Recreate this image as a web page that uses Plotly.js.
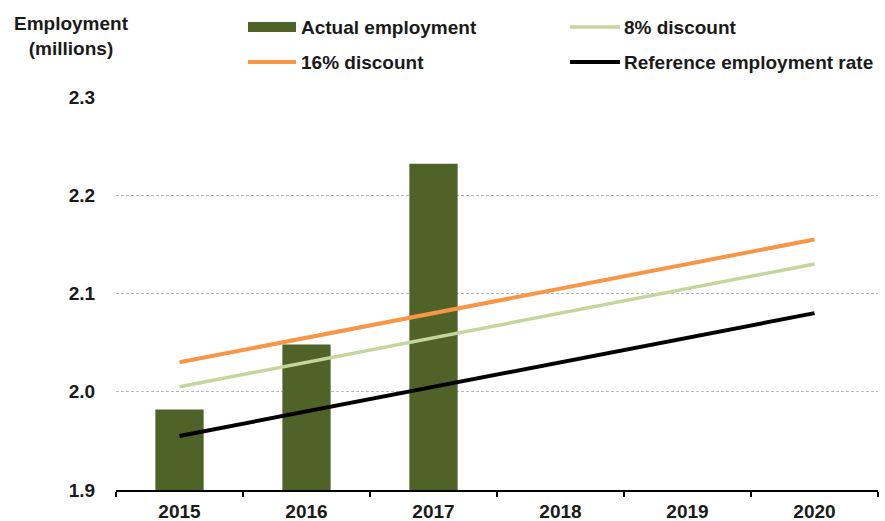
<!DOCTYPE html>
<html>
<head>
<meta charset="utf-8">
<script src="https://cdn.plot.ly/plotly-3.0.1.min.js"></script>
<style>html,body{margin:0;padding:0;background:#fff;}#chart{width:885px;height:521px;}</style>
</head>
<body>
<div id="chart"></div>
<script>
// ---- data ----
const years = ['2015', '2016', '2017', '2018', '2019', '2020'];
const actualYears = ['2015', '2016', '2017'];
const actualEmployment = [1.982, 2.048, 2.232];
const discount8 = [2.005, 2.030, 2.055, 2.080, 2.105, 2.130];
const discount16 = [2.030, 2.055, 2.080, 2.105, 2.130, 2.155];
const referenceRate = [1.955, 1.980, 2.005, 2.030, 2.055, 2.080];
const seriesNames = ['Actual employment', '8% discount', '16% discount', 'Reference employment rate'];
const yTicks = [1.9, 2.0, 2.1, 2.2, 2.3];
const yTickLabels = ['1.9', '2.0', '2.1', '2.2', '2.3'];
const yTitle = 'Employment<br>(millions)';

// ---- styles ----
const FONT = 'Liberation Sans, Arial, sans-serif';
const TXT = '#1a1a1a';
const cBar = '#4f6228';
const c8 = '#c3d69b';
const c16 = '#f79646';
const cRef = '#000000';

const traces = [
  {type: 'bar', x: actualYears, y: actualEmployment, name: seriesNames[0],
   marker: {color: cBar}, showlegend: false, hoverinfo: 'x+y'},
  {type: 'scatter', mode: 'lines', x: years, y: discount8, name: seriesNames[1],
   line: {color: c8, width: 3.5}, showlegend: false},
  {type: 'scatter', mode: 'lines', x: years, y: discount16, name: seriesNames[2],
   line: {color: c16, width: 4}, showlegend: false},
  {type: 'scatter', mode: 'lines', x: years, y: referenceRate, name: seriesNames[3],
   line: {color: cRef, width: 4}, showlegend: false}
];

// plot area: x 116..878, y 97..490
const L = 116, R = 878, T = 97, B = 490;
function px(x) { return (x - L) / (R - L); }
function py(y) { return (B - y) / (B - T); }

const shapes = [
  {type: 'rect', xref: 'paper', yref: 'paper', x0: px(248), x1: px(296), y0: py(32), y1: py(22),
   fillcolor: cBar, line: {width: 0}},
  {type: 'line', xref: 'paper', yref: 'paper', x0: px(570), x1: px(620), y0: py(27), y1: py(27),
   line: {color: c8, width: 3.5}},
  {type: 'line', xref: 'paper', yref: 'paper', x0: px(248), x1: px(296), y0: py(62), y1: py(62),
   line: {color: c16, width: 4}},
  {type: 'line', xref: 'paper', yref: 'paper', x0: px(570), x1: px(620), y0: py(62), y1: py(62),
   line: {color: cRef, width: 4}}
];

const legFont = {family: FONT, size: 19, color: TXT, weight: 700};
const annotations = [
  {xref: 'paper', yref: 'paper', x: px(299), y: py(27), text: seriesNames[0], showarrow: false,
   xanchor: 'left', yanchor: 'middle', font: legFont},
  {xref: 'paper', yref: 'paper', x: px(622), y: py(27), text: seriesNames[1], showarrow: false,
   xanchor: 'left', yanchor: 'middle', font: legFont},
  {xref: 'paper', yref: 'paper', x: px(299), y: py(62), text: seriesNames[2], showarrow: false,
   xanchor: 'left', yanchor: 'middle', font: legFont},
  {xref: 'paper', yref: 'paper', x: px(622), y: py(62), text: seriesNames[3], showarrow: false,
   xanchor: 'left', yanchor: 'middle', font: legFont},
  {xref: 'paper', yref: 'paper', x: px(71), y: py(36), text: yTitle, showarrow: false,
   xanchor: 'center', yanchor: 'middle', align: 'center',
   font: {family: FONT, size: 19, color: TXT, weight: 700}}
];

const layout = {
  width: 885, height: 521,
  margin: {l: L, r: 885 - R, t: T, b: 521 - B},
  paper_bgcolor: '#ffffff', plot_bgcolor: '#ffffff',
  font: {family: FONT, color: TXT},
  showlegend: false,
  bargap: 0.62,
  xaxis: {
    type: 'category', categoryorder: 'array', categoryarray: years,
    tickmode: 'array', tickvals: years, ticktext: years,
    tickson: 'boundaries', ticks: 'outside', ticklen: 5, tickwidth: 1.5, tickcolor: '#000',
    ticklabelstandoff: 4,
    showline: true, linecolor: '#000', linewidth: 1.5,
    showgrid: false, zeroline: false,
    tickfont: {family: FONT, size: 19, color: TXT, weight: 700},
    range: [-0.5, 5.5]
  },
  yaxis: {
    range: [1.9, 2.3],
    tickmode: 'array', tickvals: yTicks, ticktext: yTickLabels,
    ticks: 'outside', ticklen: 16, tickcolor: 'rgba(0,0,0,0)',
    showline: false, zeroline: false,
    showgrid: true, gridcolor: '#bbbbbb', gridwidth: 1, griddash: '3px,2px',
    tickfont: {family: FONT, size: 19, color: TXT, weight: 700}
  },
  shapes: shapes,
  annotations: annotations
};

Plotly.newPlot('chart', traces, layout, {displayModeBar: false, staticPlot: true});
</script>
</body>
</html>
